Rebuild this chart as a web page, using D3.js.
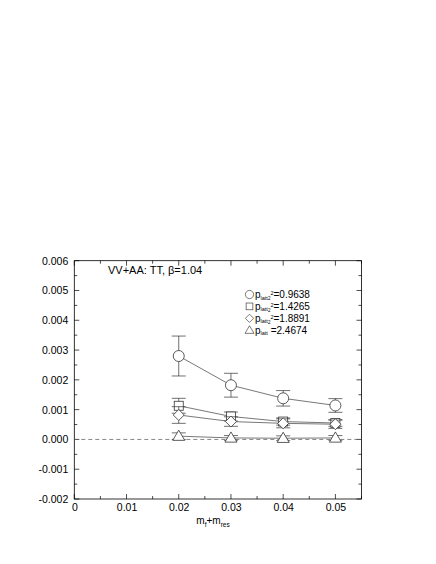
<!DOCTYPE html>
<html><head><meta charset="utf-8">
<script src="https://cdn.jsdelivr.net/npm/d3@7"></script>
<style>body{margin:0;background:#fff;}text{font-family:"Liberation Sans",Arial,sans-serif;}</style>
</head><body>
<svg id="c" width="436" height="564"></svg>
<script>
const xValues = [0.02, 0.03, 0.04, 0.05];
const circleY = [0.00280, 0.00182, 0.00138, 0.00114];
const circleErr = [0.00067, 0.00040, 0.00026, 0.00023];
const squareY = [0.00113, 0.00077, 0.00060, 0.00055];
const squareErr = [0.00025, 0.00015, 0.00012, 0.00011];
const diamondY = [0.00082, 0.00060, 0.00054, 0.00051];
const diamondErr = [0.00028, 0.00016, 0.00015, 0.00014];
const triangleY = [0.00011, 0.00005, 0.00004, 0.00005];
const triangleErr = [0.00011, 0.00008, 0.00008, 0.00008];
const legendValues = ["=0.9638", "=1.4265", "=1.8891", "=2.4674"];
const xTicks = [0, 0.01, 0.02, 0.03, 0.04, 0.05];
const yTicks = [-0.002, -0.001, 0, 0.001, 0.002, 0.003, 0.004, 0.005, 0.006];

const svg = d3.select("#c");
const L = 74.3, R = 361.5, T = 260.7, B = 499;
const x = d3.scaleLinear().domain([0, 0.055]).range([L, R]);
const y = d3.scaleLinear().domain([-0.002, 0.006]).range([B, T]);

// frame
svg.append("rect").attr("x", L).attr("y", T).attr("width", R - L).attr("height", B - T)
  .attr("fill", "none").attr("stroke", "#000").attr("stroke-width", 0.8);

// ticks (inside, both sides)
const xMinor = d3.range(0, 0.0551, 0.005);
const yMinor = d3.range(-0.002, 0.00601, 0.0005);
const tk = svg.append("g").attr("stroke", "#000").attr("stroke-width", 0.7);
xMinor.forEach((v, i) => {
  const len = (i % 2 === 0) ? 5 : 3;
  tk.append("line").attr("x1", x(v)).attr("x2", x(v)).attr("y1", B).attr("y2", B - len);
  tk.append("line").attr("x1", x(v)).attr("x2", x(v)).attr("y1", T).attr("y2", T + len);
});
yMinor.forEach((v, i) => {
  const len = (i % 2 === 0) ? 5 : 3;
  tk.append("line").attr("y1", y(v)).attr("y2", y(v)).attr("x1", L).attr("x2", L + len);
  tk.append("line").attr("y1", y(v)).attr("y2", y(v)).attr("x1", R).attr("x2", R - len);
});

// tick labels
const xAxis = d3.axisBottom(x).tickValues(xTicks).tickSize(0).tickPadding(5)
  .tickFormat(d => d === 0 ? "0" : d3.format(".2f")(d));
const gx = svg.append("g").attr("transform", `translate(0,${B})`).call(xAxis);
gx.select(".domain").remove();
gx.selectAll("text").attr("font-size", 10.5).attr("font-family", "Liberation Sans, Arial, sans-serif").attr("fill", "#000");

const yAxis = d3.axisLeft(y).tickValues(yTicks).tickSize(0).tickPadding(6)
  .tickFormat(d3.format(".3f"));
const gy = svg.append("g").attr("transform", `translate(${L},0)`).call(yAxis);
gy.select(".domain").remove();
gy.selectAll("text").attr("font-size", 10.5).attr("font-family", "Liberation Sans, Arial, sans-serif").attr("fill", "#000")
  .text(d => d3.format(".3f")(d).replace("−", "-"));

// x axis title
const xt = svg.append("text").attr("x", 213).attr("y", 524).attr("text-anchor", "middle").attr("font-size", 10);
xt.append("tspan").text("m");
xt.append("tspan").attr("font-size", 6.5).attr("dy", 2.5).text("f");
xt.append("tspan").attr("dy", -2.5).text("+m");
xt.append("tspan").attr("font-size", 6.5).attr("dy", 2.5).text("res");

// zero line
svg.append("line").attr("x1", L).attr("x2", R).attr("y1", y(0)).attr("y2", y(0))
  .attr("stroke", "#666").attr("stroke-width", 0.8).attr("stroke-dasharray", "4,3");

// title
svg.append("text").attr("x", 108).attr("y", 274).attr("font-size", 11).text("VV+AA: TT, β=1.04");

const series = [
  {ys: circleY, es: circleErr, sym: "circle"},
  {ys: squareY, es: squareErr, sym: "square"},
  {ys: diamondY, es: diamondErr, sym: "diamond"},
  {ys: triangleY, es: triangleErr, sym: "triangle"}
];

function drawSym(g, type, cx, cy, s) {
  if (type === "circle") {
    g.append("circle").attr("cx", cx).attr("cy", cy).attr("r", 5.5 * s);
  } else if (type === "square") {
    const h = 4.5 * s;
    g.append("rect").attr("x", cx - h).attr("y", cy - h).attr("width", 2 * h).attr("height", 2 * h);
  } else if (type === "diamond") {
    const h = 5.5 * s;
    g.append("path").attr("d", `M${cx},${cy - h}L${cx + h},${cy}L${cx},${cy + h}L${cx - h},${cy}Z`);
  } else {
    const h = 6 * s;
    g.append("path").attr("d", `M${cx},${cy - h}L${cx + h},${cy + h * 0.7}L${cx - h},${cy + h * 0.7}Z`);
  }
}

const line = d3.line().x(d => x(d[0])).y(d => y(d[1]));
series.forEach(s => {
  const pts = xValues.map((v, i) => [v, s.ys[i]]);
  svg.append("path").attr("d", line(pts)).attr("fill", "none").attr("stroke", "#555").attr("stroke-width", 0.8);
  const eg = svg.append("g").attr("stroke", "#333").attr("stroke-width", 0.7);
  pts.forEach((p, i) => {
    const cx = x(p[0]), y1 = y(p[1] + s.es[i]), y2 = y(p[1] - s.es[i]);
    eg.append("line").attr("x1", cx).attr("x2", cx).attr("y1", y1).attr("y2", y2);
    eg.append("line").attr("x1", cx - 7).attr("x2", cx + 7).attr("y1", y1).attr("y2", y1);
    eg.append("line").attr("x1", cx - 7).attr("x2", cx + 7).attr("y1", y2).attr("y2", y2);
  });
  const mg = svg.append("g").attr("fill", "#fff").attr("stroke", "#333").attr("stroke-width", 0.8);
  pts.forEach(p => drawSym(mg, s.sym, x(p[0]), y(p[1]), 1));
});

// legend
const legSub2 = [true, true, true, false];
series.forEach((s, i) => {
  const ly = 294.5 + i * 11.9;
  const mg = svg.append("g").attr("fill", "#fff").attr("stroke", "#444").attr("stroke-width", 0.7);
  drawSym(mg, s.sym, 249.5, ly, 0.75);
  const t = svg.append("text").attr("x", 255).attr("y", ly + 3.8).attr("font-size", 10);
  t.append("tspan").text("p");
  t.append("tspan").attr("font-size", 5.5).attr("dy", 1.2).text("latt");
  if (legSub2[i]) {
    t.append("tspan").attr("font-size", 4.5).attr("dy", 0.6).text("2");
    t.append("tspan").attr("font-size", 5.5).attr("dy", -5.3).text("2");
    t.append("tspan").attr("dy", 3.5).text(legendValues[i]);
  } else {
    t.append("tspan").attr("dy", -1.2).text(" " + legendValues[i]);
  }
});
</script>
</body></html>
